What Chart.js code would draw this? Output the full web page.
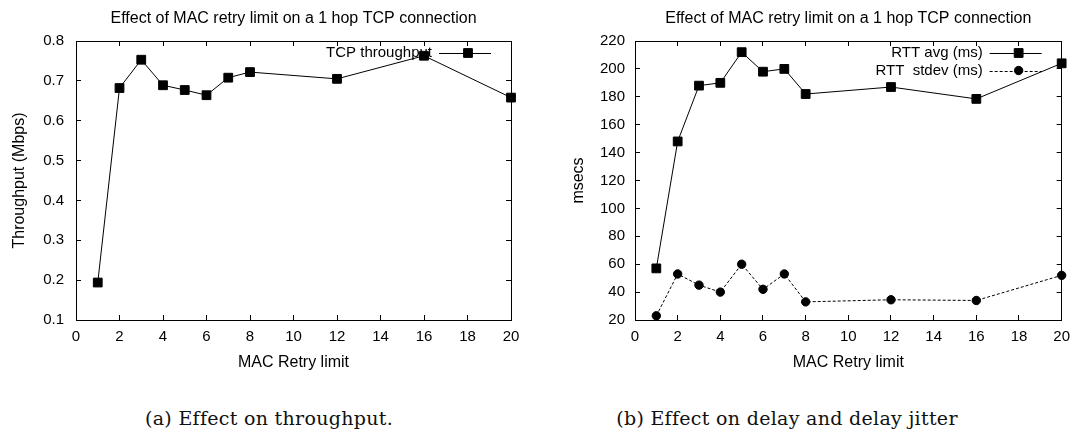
<!DOCTYPE html>
<html>
<head>
<meta charset="utf-8">
<script src="https://cdn.jsdelivr.net/npm/chart.js@4.4.1/dist/chart.umd.min.js"></script>
<style>
  body { margin: 0; background: #fff; width: 1083px; height: 438px; overflow: hidden; position: relative; }
  canvas { position: absolute; top: 0; }
  #tput { left: 0; }
  #delay { left: 540px; }
  .caption { position: absolute; top: 407px; line-height: 22px; font-size: 19px; letter-spacing: 0.3px; font-family: "DejaVu Serif", serif; color: #111; white-space: nowrap; transform: translateX(-50%); }
</style>
</head>
<body>
<canvas id="tput" width="540" height="385"></canvas>
<canvas id="delay" width="543" height="385"></canvas>
<div class="caption" style="left:269px">(a) Effect on throughput.</div>
<div class="caption" style="left:787px">(b) Effect on delay and delay jitter</div>
<script>
// measurements per MAC retry limit setting
const retryLimits = [1, 2, 3, 4, 5, 6, 7, 8, 12, 16, 20];
const throughputMbps = [0.194, 0.682, 0.753, 0.689, 0.677, 0.664, 0.708, 0.722, 0.705, 0.763, 0.658];
const rttAvgMs = [57, 148, 188, 190, 212, 198, 200, 182, 187, 178.5, 204];
const rttStdevMs = [23, 53, 45, 40, 60, 42, 53, 33, 34.5, 34, 52];

// axis ranges (min, max, step)
const retryAxis = [0, 20, 2];
const throughputAxis = [0.1, 0.8, 0.1];
const msecsAxis = [20, 220, 20];

const plotTitle = 'Effect of MAC retry limit on a 1 hop TCP connection';
const FONT = '"Liberation Sans", Arial, sans-serif';

Chart.defaults.font.family = FONT;
Chart.defaults.font.size = 15;
Chart.defaults.color = '#000';

const points = (ys) => retryLimits.map((x, i) => ({x: x, y: ys[i]}));

// gnuplot-style key: label, then sample line with marker, top right inside the frame
const gnuplotKey = {
    id: 'gnuplotKey',
    beforeDatasetsDraw(chart) {
        const {ctx, chartArea} = chart;
        const r = chartArea.right;
        ctx.save();
        ctx.font = '15px ' + FONT;
        ctx.textAlign = 'right';
        ctx.textBaseline = 'middle';
        chart.data.datasets.forEach((ds, i) => {
            const y = chartArea.top + 12 + i * 17.5;
            ctx.fillStyle = '#000';
            ctx.fillText(ds.label, r - 79, y);
            ctx.strokeStyle = ds.borderColor;
            ctx.lineWidth = ds.borderWidth;
            ctx.setLineDash(ds.borderDash || []);
            ctx.beginPath();
            ctx.moveTo(r - 72, Math.round(y) + 0.5);
            ctx.lineTo(r - 20, Math.round(y) + 0.5);
            ctx.stroke();
            ctx.setLineDash([]);
            ctx.fillStyle = ds.pointBackgroundColor;
            ctx.strokeStyle = ds.pointBorderColor;
            ctx.lineWidth = ds.pointBorderWidth;
            Chart.helpers.drawPoint(ctx, {
                pointStyle: ds.pointStyle,
                radius: ds.pointRadius,
                borderWidth: ds.pointBorderWidth,
                rotation: 0
            }, r - 43, y);
        });
        ctx.restore();
    }
};

function frame(range, yTitle, yWidth, labelPad, titlePad) {
    const marks = {display: true, drawOnChartArea: false, drawTicks: true, tickLength: -5, color: '#000', lineWidth: 1};
    const edge = {display: true, color: '#000', width: 1};
    const [ymin, ymax, ystep] = range;
    const [xmin, xmax, xstep] = retryAxis;
    return {
        x: {
            type: 'linear', position: 'bottom', min: xmin, max: xmax,
            ticks: {stepSize: xstep, padding: 13, maxRotation: 0},
            grid: marks, border: edge,
            title: {display: true, text: 'MAC Retry limit', font: {size: 16}, padding: {top: 0, bottom: 13}},
            afterFit: (s) => { s.height = 65; }
        },
        x2: {
            type: 'linear', position: 'top', min: xmin, max: xmax,
            ticks: {stepSize: xstep, display: false},
            grid: marks, border: edge,
            afterFit: (s) => { s.height = 0; }
        },
        y: {
            type: 'linear', position: 'left', min: ymin, max: ymax,
            ticks: {
                stepSize: ystep, padding: labelPad,
                callback: (v) => (ystep < 1 ? v.toFixed(1) : String(v))
            },
            grid: marks, border: edge,
            title: {display: true, text: yTitle, font: {size: 16}, padding: {top: titlePad, bottom: 0}},
            afterFit: (s) => { s.width = yWidth; }
        },
        y2: {
            type: 'linear', position: 'right', min: ymin, max: ymax,
            ticks: {stepSize: ystep, display: false},
            grid: marks, border: edge,
            afterFit: (s) => { s.width = 0; }
        }
    };
}

function options(range, yTitle, yWidth, labelPad, titlePad, rightPad) {
    return {
        responsive: false,
        animation: false,
        events: [],
        layout: {padding: {left: 0, top: 0, right: rightPad, bottom: 0}},
        scales: frame(range, yTitle, yWidth, labelPad, titlePad),
        plugins: {
            legend: {display: false},
            tooltip: {enabled: false},
            title: {
                display: true, text: plotTitle, fullSize: false, color: '#000',
                font: {size: 16, weight: 'normal', lineHeight: 1.2},
                padding: {top: 9, bottom: 12.8}
            }
        }
    };
}

const squareLine = {
    borderColor: '#000', borderWidth: 1,
    pointStyle: 'rect', pointRadius: 6.2, pointBorderWidth: 1,
    pointBackgroundColor: '#000', pointBorderColor: '#000',
    tension: 0, clip: false
};

new Chart(document.getElementById('tput'), {
    type: 'line',
    data: {
        datasets: [
            Object.assign({label: 'TCP throughput', data: points(throughputMbps)}, squareLine)
        ]
    },
    options: options(throughputAxis, 'Throughput (Mbps)', 76, 17, 9.5, 29),
    plugins: [gnuplotKey]
});

new Chart(document.getElementById('delay'), {
    type: 'line',
    data: {
        datasets: [
            Object.assign({label: 'RTT avg (ms)', data: points(rttAvgMs)}, squareLine),
            {
                label: 'RTT  stdev (ms)', data: points(rttStdevMs),
                borderColor: '#000', borderWidth: 1, borderDash: [3, 2],
                pointStyle: 'circle', pointRadius: 4.2, pointBorderWidth: 1,
                pointBackgroundColor: '#000', pointBorderColor: '#000',
                tension: 0, clip: false
            }
        ]
    },
    options: options(msecsAxis, 'msecs', 95, 15, 28.5, 11),
    plugins: [gnuplotKey]
});
</script>
</body>
</html>
